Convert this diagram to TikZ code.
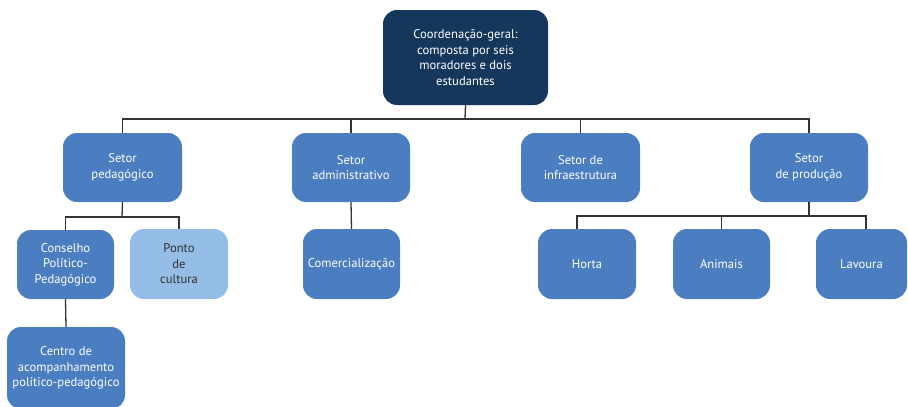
\documentclass[tikz,border=0pt]{standalone}
\usepackage{fontspec}
\setmainfont{PT Sans}
\definecolor{navy}{HTML}{16375C}
\definecolor{midblue}{HTML}{4A7EC0}
\definecolor{lightblue}{HTML}{95BEE6}
\definecolor{linecol}{HTML}{333333}
\begin{document}
\begin{tikzpicture}[x=1pt,y=-1pt,
  box/.style={rounded corners=14pt, fill=midblue, text=white, align=center,
    inner sep=2pt, font=\fontsize{12.6}{15.6}\selectfont},
  wire/.style={draw=linecol, line width=1.3pt}]
\useasboundingbox (0,0) rectangle (908,407);
\begin{scope}
\clip (0,0) rectangle (908,407);
\node[box, fill=navy, minimum width=165pt, minimum height=95pt] (top) at (465.5,57.5) {Coordenação-geral:\\composta por seis\\moradores e dois\\estudantes};
\node[box, minimum width=119pt, minimum height=69pt] (ped) at (122.5,167.5) {Setor\\pedagógico};
\node[box, minimum width=118pt, minimum height=69pt] (adm) at (351,167.5) {Setor\\administrativo};
\node[box, minimum width=119pt, minimum height=69pt] (inf) at (580.5,167.5) {Setor de\\infraestrutura};
\node[box, minimum width=118pt, minimum height=69pt] (prod) at (809,167.5) {Setor\\de produção};
\node[box, minimum width=97pt, minimum height=69pt] (cons) at (65.5,264.5) {Conselho\\Político-\\Pedagógico};
\node[box, fill=lightblue, text=linecol, minimum width=98pt, minimum height=70pt] (ponto) at (179,264) {Ponto\\de\\cultura};
\node[box, minimum width=97pt, minimum height=70pt] (com) at (351.5,264) {Comercialização};
\node[box, minimum width=98pt, minimum height=70pt] (horta) at (587,264) {Horta};
\node[box, minimum width=97pt, minimum height=70pt] (anim) at (721.5,264) {Animais};
\node[box, minimum width=91pt, minimum height=70pt] (lav) at (861.5,264) {Lavoura};
\node[box, minimum width=118pt, minimum height=82pt] (centro) at (66,368) {Centro de\\acompanhamento\\político-pedagógico};
\end{scope}
\coordinate (bus1) at (465,119);
\coordinate (bus2) at (122,217);
\coordinate (bus3) at (809,216);
\draw[wire] (top.south) -- (bus1);
\draw[wire] (bus1) -| (ped.north);
\draw[wire] (bus1) -| (adm.north);
\draw[wire] (bus1) -| (inf.north);
\draw[wire] (bus1) -| (prod.north);
\draw[wire] (ped.south) -- (bus2);
\draw[wire] (bus2) -| (cons.north);
\draw[wire] (bus2) -| (ponto.north);
\draw[wire] (adm.south) -- (com.north);
\draw[wire] (prod.south) -- (bus3);
\draw[wire] (bus3) -| ([xshift=-10pt]horta.north);
\draw[wire] (bus3) -| (anim.north);
\draw[wire] (bus3) -| ([xshift=4.5pt]lav.north);
\draw[wire] (cons.south) -- (centro.north);
\end{tikzpicture}
\end{document}
